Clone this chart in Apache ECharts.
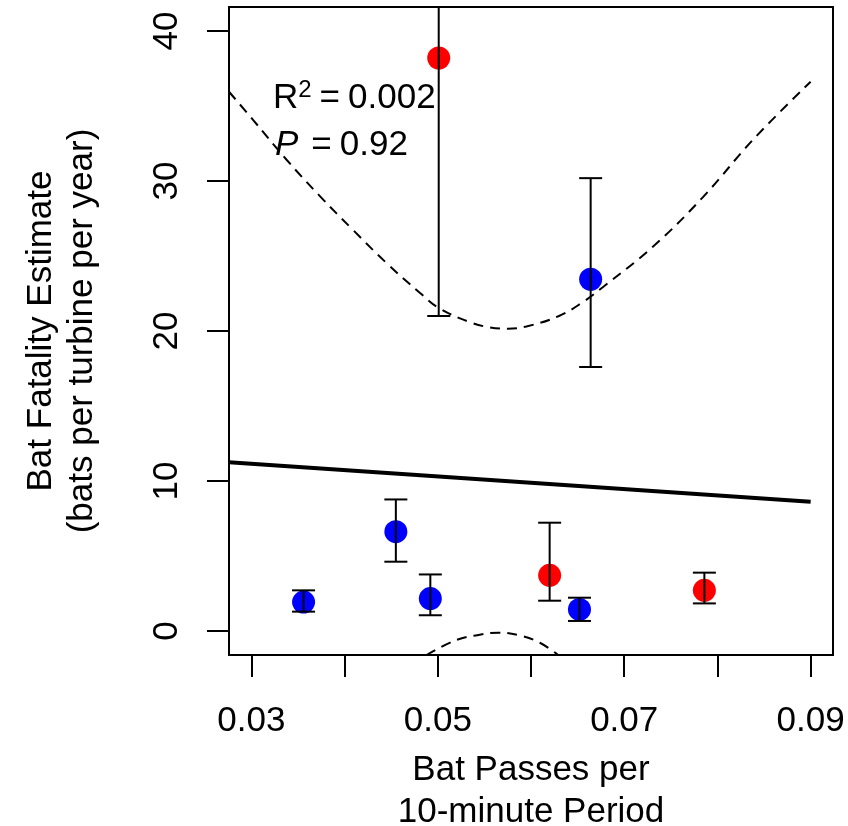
<!DOCTYPE html>
<html>
<head>
<meta charset="utf-8">
<script src="https://cdn.jsdelivr.net/npm/echarts@6/dist/echarts.min.js"></script>
<style>
  html, body { margin: 0; padding: 0; background: #fff; }
  #chart { width: 848px; height: 826px; }
</style>
</head>
<body>
<div id="chart"></div>
<script>
// Axis ticks and labels
const xTicks = [0.03, 0.04, 0.05, 0.06, 0.07, 0.08, 0.09];
const xLabels = [0.03, 0.05, 0.07, 0.09];
const yTicks = [0, 10, 20, 30, 40];

// Sites shown in red
const redX = [0.0501, 0.0620, 0.0786];
const redY = [38.2, 3.71, 2.71];
const redLo = [21.0, 2.02, 1.84];
const redHi = [55.0, 7.22, 3.89];

// Sites shown in blue
const blueX = [0.0356, 0.0455, 0.0492, 0.0652, 0.0664];
const blueY = [1.93, 6.62, 2.16, 1.44, 23.45];
const blueLo = [1.29, 4.62, 1.05, 0.67, 17.6];
const blueHi = [2.71, 8.77, 3.77, 2.22, 30.19];

// Fitted regression line
const fitX = [0.0276, 0.09];
const fitY = [11.25, 8.62];

// Confidence band, upper branch
const upperX = [0.0276, 0.0302, 0.0338, 0.0374, 0.0409, 0.0445, 0.0481, 0.0502, 0.0534, 0.0555, 0.0575, 0.0595, 0.0630, 0.0655, 0.0678, 0.0731, 0.0785, 0.0838, 0.09];
const upperY = [35.95, 34.06, 31.4, 28.96, 26.74, 24.53, 22.53, 21.5, 20.6, 20.25, 20.15, 20.3, 21.0, 21.9, 22.97, 25.63, 28.96, 32.74, 36.62];

// Confidence band, lower branch (only its top shows inside the frame)
const lowerX = [0.0488, 0.0520, 0.0545, 0.0565, 0.0588, 0.0610, 0.0629];
const lowerY = [-1.6, -0.6, -0.25, -0.11, -0.3, -0.8, -1.6];

const FONT = '"Liberation Sans", Arial, sans-serif';

const zip = (xs, ys) => xs.map((x, i) => [x, ys[i]]);
const bars = (xs, lo, hi) => xs.map((x, i) => [x, lo[i], hi[i]]);

const chart = echarts.init(document.getElementById('chart'), null, { renderer: 'canvas' });

// Vertical error bar with flat caps at both ends
function renderErrorBar(params, api) {
  const x = api.value(0);
  const lo = api.coord([x, api.value(1)]);
  const hi = api.coord([x, api.value(2)]);
  const half = 11.5;
  const style = { stroke: '#000', lineWidth: 2 };
  return {
    type: 'group',
    children: [
      { type: 'line', shape: { x1: lo[0], y1: lo[1], x2: hi[0], y2: hi[1] }, style },
      { type: 'line', shape: { x1: lo[0] - half, y1: lo[1], x2: lo[0] + half, y2: lo[1] }, style },
      { type: 'line', shape: { x1: hi[0] - half, y1: hi[1], x2: hi[0] + half, y2: hi[1] }, style }
    ]
  };
}

const dashed = { color: '#000', width: 2, type: [10, 7] };

chart.setOption({
  animation: false,
  backgroundColor: '#fff',
  textStyle: { fontFamily: FONT, color: '#000' },
  grid: {
    left: 229, right: 15, top: 7, bottom: 171,
    outerBoundsMode: 'none',
    show: true, borderColor: '#000', borderWidth: 2, backgroundColor: 'transparent'
  },
  xAxis: {
    type: 'value',
    min: 0.0276, max: 0.0924,
    axisLine: { show: false, onZero: false },
    splitLine: { show: false },
    axisTick: { show: true, length: 22, lineStyle: { color: '#000', width: 2 }, customValues: xTicks },
    axisLabel: {
      customValues: xLabels, margin: 49,
      fontSize: 35, color: '#000', fontFamily: FONT,
      formatter: v => v.toFixed(2)
    },
    name: 'Bat Passes per\n10-minute Period',
    nameLocation: 'middle', nameGap: 94,
    nameTextStyle: { fontSize: 35, lineHeight: 42, color: '#000', fontFamily: FONT }
  },
  yAxis: {
    type: 'value',
    min: -1.6, max: 41.6,
    axisLine: { show: false, onZero: false },
    splitLine: { show: false },
    axisTick: { show: true, length: 22, lineStyle: { color: '#000', width: 2 }, customValues: yTicks },
    axisLabel: {
      customValues: yTicks, margin: 44, rotate: 90,
      fontSize: 35, color: '#000', fontFamily: FONT
    },
    name: 'Bat Fatality Estimate\n(bats per turbine per year)',
    nameLocation: 'middle', nameRotate: 90, nameGap: 126,
    nameTextStyle: { fontSize: 35, lineHeight: 41, color: '#000', fontFamily: FONT }
  },
  graphic: [
    {
      type: 'text', x: 273, y: 78, z: 100,
      style: {
        text: '{a|R}{s|2}{e|=}{a|0.002}',
        verticalAlign: 'top',
        rich: {
          a: { fontSize: 35, lineHeight: 38, verticalAlign: 'bottom', fontFamily: FONT, fill: '#000' },
          s: { fontSize: 24, lineHeight: 24, verticalAlign: 'top', fontFamily: FONT, fill: '#000' },
          e: { fontSize: 35, lineHeight: 38, verticalAlign: 'bottom', fontFamily: FONT, fill: '#000', padding: [0, 8, 0, 8] }
        }
      }
    },
    {
      type: 'text', x: 275, y: 125, z: 100,
      style: {
        text: '{i|P}{e|=}{a|0.92}',
        verticalAlign: 'top',
        rich: {
          i: { fontSize: 35, lineHeight: 38, verticalAlign: 'bottom', fontStyle: 'italic', fontFamily: FONT, fill: '#000' },
          a: { fontSize: 35, lineHeight: 38, verticalAlign: 'bottom', fontFamily: FONT, fill: '#000' },
          e: { fontSize: 35, lineHeight: 38, verticalAlign: 'bottom', fontFamily: FONT, fill: '#000', padding: [0, 8, 0, 13] }
        }
      }
    }
  ],
  series: [
    {
      name: 'fit', type: 'line', data: zip(fitX, fitY),
      symbol: 'none', lineStyle: { color: '#000', width: 4 }, z: 2, silent: true
    },
    {
      name: 'upper', type: 'line', data: zip(upperX, upperY), smooth: 0.4,
      symbol: 'none', lineStyle: dashed, z: 2, silent: true
    },
    {
      name: 'lower', type: 'line', data: zip(lowerX, lowerY), smooth: 0.4,
      symbol: 'none', lineStyle: dashed, z: 2, silent: true
    },
    {
      name: 'red', type: 'scatter', data: zip(redX, redY),
      symbol: 'circle', symbolSize: 23, itemStyle: { color: '#FF0000', opacity: 1 }, z: 3
    },
    {
      name: 'blue', type: 'scatter', data: zip(blueX, blueY),
      symbol: 'circle', symbolSize: 23, itemStyle: { color: '#0000FF', opacity: 1 }, z: 3
    },
    {
      name: 'redErr', type: 'custom', data: bars(redX, redLo, redHi),
      renderItem: renderErrorBar, clip: true, z: 4, silent: true
    },
    {
      name: 'blueErr', type: 'custom', data: bars(blueX, blueLo, blueHi),
      renderItem: renderErrorBar, clip: true, z: 4, silent: true
    }
  ]
});
</script>
</body>
</html>
